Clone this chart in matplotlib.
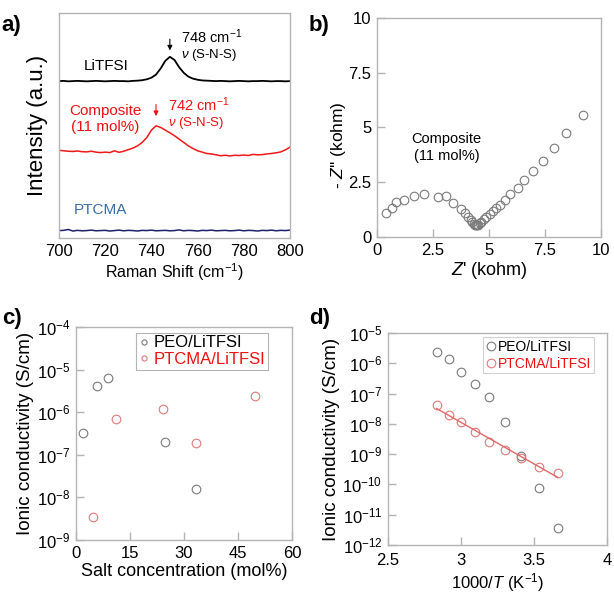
import numpy as np
import matplotlib
matplotlib.use("Agg")
import matplotlib.pyplot as plt

plt.rcParams['font.family'] = ['Liberation Sans', 'DejaVu Sans']
plt.rcParams['mathtext.fontset'] = 'custom'
plt.rcParams['mathtext.rm'] = 'Liberation Sans'
plt.rcParams['mathtext.it'] = 'Liberation Sans:italic'
plt.rcParams['mathtext.bf'] = 'Liberation Sans:bold'

# ---------------- data ----------------
# (a) Raman spectra, 700-800 cm-1 every 2 cm-1 (normalised, stacked)
raman_x = list(range(700, 801, 2))
litfsi_y = [0.698, 0.699, 0.697, 0.698, 0.699, 0.698, 0.697, 0.698, 0.699, 0.698,
            0.697, 0.698, 0.699, 0.698, 0.698, 0.697, 0.699, 0.700, 0.702, 0.706,
            0.713, 0.727, 0.754, 0.788, 0.806, 0.792, 0.760, 0.735, 0.718, 0.709,
            0.704, 0.701, 0.700, 0.699, 0.698, 0.699, 0.698, 0.697, 0.698, 0.699,
            0.698, 0.697, 0.698, 0.698, 0.699, 0.698, 0.697, 0.698, 0.698, 0.697, 0.698]
composite_y = [0.390, 0.388, 0.386, 0.385, 0.387, 0.384, 0.383, 0.386, 0.382, 0.380,
               0.382, 0.380, 0.388, 0.381, 0.386, 0.393, 0.400, 0.410, 0.425, 0.447,
               0.480, 0.499, 0.492, 0.480, 0.468, 0.455, 0.440, 0.425, 0.410, 0.398,
               0.388, 0.382, 0.376, 0.374, 0.370, 0.366, 0.368, 0.365, 0.368, 0.367,
               0.369, 0.367, 0.372, 0.370, 0.371, 0.374, 0.376, 0.379, 0.383, 0.392, 0.404]
ptcma_y = [0.033, 0.034, 0.038, 0.031, 0.034, 0.032, 0.033, 0.035, 0.032, 0.033,
           0.034, 0.031, 0.033, 0.035, 0.032, 0.034, 0.033, 0.031, 0.034, 0.033,
           0.035, 0.032, 0.033, 0.034, 0.032, 0.033, 0.036, 0.032, 0.034, 0.033,
           0.031, 0.034, 0.033, 0.035, 0.032, 0.033, 0.034, 0.032, 0.033, 0.035,
           0.032, 0.034, 0.033, 0.031, 0.034, 0.033, 0.035, 0.032, 0.034, 0.033, 0.035]

# (b) Nyquist plot, composite 11 mol%
z_re = [0.42, 0.67, 0.85, 1.22, 1.67, 2.09, 2.72, 3.09, 3.39, 3.76, 3.91, 4.06,
        4.18, 4.25, 4.31, 4.36, 4.40, 4.46, 4.52, 4.58, 4.66, 4.76, 4.88, 5.03,
        5.18, 5.33, 5.48, 5.70, 5.94, 6.27, 6.57, 6.94, 7.39, 7.90, 8.42, 9.21]
z_im = [1.08, 1.33, 1.61, 1.71, 1.86, 1.98, 1.83, 1.86, 1.56, 1.30, 1.11, 0.91,
        0.77, 0.68, 0.61, 0.55, 0.53, 0.53, 0.56, 0.62, 0.68, 0.80, 0.92, 1.06,
        1.20, 1.33, 1.48, 1.71, 1.97, 2.24, 2.62, 3.03, 3.48, 4.05, 4.77, 5.59]

# (c) conductivity vs salt concentration
peo_conc = [1.9, 5.9, 9.0, 24.8, 33.4]
peo_sigma = [3.2e-7, 4.1e-6, 6.5e-6, 2.0e-7, 1.6e-8]
ptcma_conc = [4.8, 11.0, 24.3, 33.4, 49.8]
ptcma_sigma = [3.4e-9, 7.0e-7, 1.17e-6, 1.85e-7, 2.37e-6]

# (d) Arrhenius plot
inv_T = [2.833, 2.915, 3.003, 3.096, 3.195, 3.300, 3.413, 3.534, 3.663]
peo_sigma_T = [2.3e-6, 1.35e-6, 5.3e-7, 2.0e-7, 7.7e-8, 1.14e-8, 8.5e-10, 7.8e-11, 3.6e-12]
ptcma_sigma_T = [4.3e-8, 2.0e-8, 1.14e-8, 5.3e-9, 2.6e-9, 1.36e-9, 7.4e-10, 3.8e-10, 2.4e-10]

# ---------------- style ----------------
FRAME = '#b4b4b4'
GRAY_M = '#7a7a7a'
RED_M = '#e07878'
RED_T = '#ee1111'
TICK_FS = 12
LAB_FS = 13


def style(ax):
    for s in ax.spines.values():
        s.set_color(FRAME)
        s.set_linewidth(1.0)
    ax.tick_params(which='major', direction='in', length=6, width=1, color=FRAME,
                   labelsize=TICK_FS, pad=4, top=False, right=False)
    ax.tick_params(which='minor', left=False, bottom=False)


fig = plt.figure(figsize=(6.14, 6.01), dpi=100)

# ---------------- (a) ----------------
ax = fig.add_axes([0.0961, 0.604, 0.3762, 0.374])
style(ax)
ax.plot(raman_x, litfsi_y, color='black', lw=1.3)
ax.plot(raman_x, composite_y, color='#f01818', lw=1.1)
ax.plot(raman_x, ptcma_y, color='#20206e', lw=1.1)
ax.set_xlim(700, 800)
ax.set_ylim(0, 1)
ax.set_yticks([])
ax.set_xticks([700, 720, 740, 760, 780, 800])
ax.tick_params(axis='x', length=0)
ax.set_xlabel('Raman Shift (cm$^{-1}$)', fontsize=11.5, labelpad=2)
ax.set_ylabel('Intensity (a.u.)', fontsize=16, labelpad=8)
ax.text(720.5, 0.767, 'LiTFSI', fontsize=11, ha='center', va='center')
ax.annotate('', xy=(748, 0.822), xytext=(748, 0.897),
            arrowprops=dict(arrowstyle='-|>', color='black', lw=0.8, mutation_scale=7))
ax.text(753, 0.897, '748 cm$^{-1}$', fontsize=10.5, ha='left', va='center')
ax.text(753, 0.815, r'$\nu$ (S-N-S)', fontsize=9.5, ha='left', va='center')
ax.text(720, 0.567, 'Composite', fontsize=11, ha='center', va='center', color=RED_T)
ax.text(720, 0.495, '(11 mol%)', fontsize=11, ha='center', va='center', color=RED_T)
ax.annotate('', xy=(742, 0.530), xytext=(742, 0.606),
            arrowprops=dict(arrowstyle='-|>', color=RED_T, lw=0.8, mutation_scale=7))
ax.text(747.3, 0.592, '742 cm$^{-1}$', fontsize=10.5, ha='left', va='center', color=RED_T)
ax.text(747.3, 0.512, r'$\nu$ (S-N-S)', fontsize=9.5, ha='left', va='center', color=RED_T)
ax.text(718, 0.123, 'PTCMA', fontsize=11, ha='center', va='center', color='#3a6ea5')
fig.text(0.003, 0.975, 'a)', fontsize=16, fontweight='bold', ha='left', va='top')

# ---------------- (b) ----------------
ax = fig.add_axes([0.614, 0.6057, 0.365, 0.3644])
style(ax)
ax.plot(z_re, z_im, 'o', ms=6.2, mfc='none', mec=GRAY_M, mew=0.8)
ax.set_xlim(0, 10)
ax.set_ylim(0, 10)
ticks = [0, 2.5, 5, 7.5, 10]
ax.set_xticks(ticks)
ax.set_xticklabels(['0', '2.5', '5', '7.5', '10'])
ax.set_yticks(ticks)
ax.set_yticklabels(['0', '2.5', '5', '7.5', '10'])
ax.set_xlabel("$Z$' (kohm)", fontsize=LAB_FS, labelpad=2)
ax.set_ylabel("- $Z$'' (kohm)", fontsize=12.5)
ax.yaxis.set_label_coords(-0.13, 0.42)
ax.text(3.1, 4.1, 'Composite\n(11 mol%)', fontsize=10.5, ha='center', va='center',
        linespacing=1.3)
fig.text(0.503, 0.975, 'b)', fontsize=16, fontweight='bold', ha='left', va='top')

# ---------------- (c) ----------------
ax = fig.add_axes([0.1238, 0.1015, 0.3518, 0.3544])
style(ax)
ax.set_yscale('log')
ax.plot(peo_conc, peo_sigma, 'o', ms=6.2, mfc='none', mec=GRAY_M, mew=0.8,
        label='PEO/LiTFSI')
ax.plot(ptcma_conc, ptcma_sigma, 'o', ms=6.2, mfc='none', mec=RED_M, mew=0.8,
        label='PTCMA/LiTFSI')
ax.set_xlim(0, 60)
ax.set_ylim(1e-9, 1e-4)
ax.set_xticks([0, 15, 30, 45, 60])
ax.set_yticks([1e-9, 1e-8, 1e-7, 1e-6, 1e-5, 1e-4])
ax.set_xlabel('Salt concentration (mol%)', fontsize=LAB_FS, labelpad=2)
ax.set_ylabel('Ionic conductivity (S/cm)', fontsize=13.5, labelpad=2)
leg = ax.legend(loc='upper right', bbox_to_anchor=(0.889, 0.972), borderaxespad=0,
                fontsize=12, markerscale=0.6, handlelength=0.6, handletextpad=0.3,
                borderpad=0.15, labelspacing=0.1, fancybox=False, framealpha=1)
leg.get_frame().set_edgecolor(FRAME)
leg.get_frame().set_linewidth(0.8)
leg.get_texts()[1].set_color(RED_T)
fig.text(0.003, 0.488, 'c)', fontsize=16, fontweight='bold', ha='left', va='top')

# ---------------- (d) ----------------
ax = fig.add_axes([0.6319, 0.0932, 0.3567, 0.3527])
style(ax)
ax.set_yscale('log')
ax.plot(inv_T, peo_sigma_T, 'o', ms=6.2, mfc='none', mec=GRAY_M, mew=0.8,
        label='PEO/LiTFSI')
ax.plot(inv_T, ptcma_sigma_T, 'o', ms=6.2, mfc='none', mec=RED_M, mew=0.8,
        label='PTCMA/LiTFSI')
coef = np.polyfit(inv_T, np.log10(ptcma_sigma_T), 1)
fx = np.array([inv_T[0], inv_T[-1]])
ax.plot(fx, 10 ** np.polyval(coef, fx), color='#e06868', lw=1.0)
ax.set_xlim(2.5, 4)
ax.set_ylim(1e-12, 1e-5)
ax.set_xticks([2.5, 3, 3.5, 4])
ax.set_xticklabels(['2.5', '3', '3.5', '4'])
ax.set_yticks([1e-12, 1e-11, 1e-10, 1e-9, 1e-8, 1e-7, 1e-6, 1e-5])
ax.tick_params(axis='x', pad=6)
ax.set_xlabel('1000/$T$ (K$^{-1}$)', fontsize=12, labelpad=2)
ax.set_ylabel('Ionic conductivity (S/cm)', fontsize=13.5, labelpad=2)
leg = ax.legend(loc='upper right', bbox_to_anchor=(0.941, 0.981), borderaxespad=0,
                fontsize=10, markerscale=1.0, handlelength=0.8, handletextpad=0.1,
                borderpad=0.2, labelspacing=0.2, fancybox=False, framealpha=1)
leg.get_frame().set_edgecolor('#d0d0d0')
leg.get_frame().set_linewidth(0.8)
leg.get_texts()[1].set_color(RED_T)
fig.text(0.503, 0.488, 'd)', fontsize=16, fontweight='bold', ha='left', va='top')

fig.savefig('out.png', dpi=100)
